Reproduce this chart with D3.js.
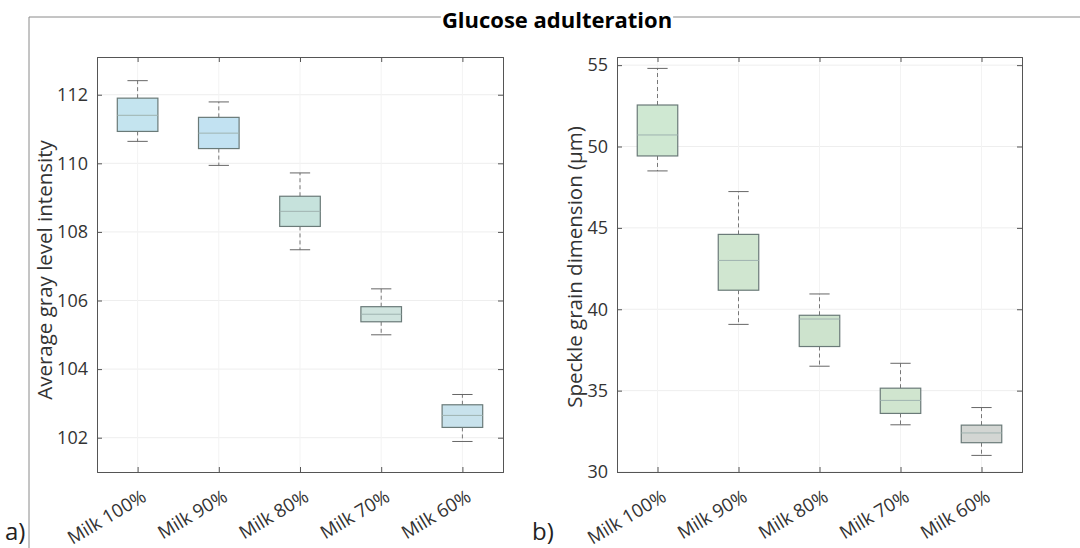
<!DOCTYPE html>
<html>
<head>
<meta charset="utf-8">
<script src="https://cdn.jsdelivr.net/npm/d3@7"></script>
<style>
  body { margin: 0; background: #fff; }
  text { font-family: "Open Sans", sans-serif; }
</style>
</head>
<body>
<svg id="chart" width="1080" height="548"></svg>
<script>
// categories and tick labels
const categories = ["Milk 100%", "Milk 90%", "Milk 80%", "Milk 70%", "Milk 60%"];
const grayTicks = [102, 104, 106, 108, 110, 112];
const grainTicks = [30, 35, 40, 45, 50, 55];

// box stats: [whisker low, q1, median, q3, whisker high]
const grayLow    = [110.64, 109.94, 107.48, 105.00, 101.89];
const grayQ1     = [110.93, 110.43, 108.16, 105.38, 102.30];
const grayMedian = [111.40, 110.88, 108.60, 105.60, 102.65];
const grayQ3     = [111.90, 111.34, 109.04, 105.82, 102.96];
const grayHigh   = [112.41, 111.79, 109.72, 106.34, 103.26];

const grainLow    = [48.50, 39.07, 36.50, 32.90, 31.02];
const grainQ1     = [49.42, 41.17, 37.71, 33.60, 31.80];
const grainMedian = [50.71, 43.00, 39.40, 34.40, 32.40];
const grainQ3     = [52.55, 44.60, 39.63, 35.15, 32.88];
const grainHigh   = [54.80, 47.23, 40.94, 36.68, 33.96];

const grayFills  = ["#c4e4ef", "#c2e2f2", "#c6e2dc", "#cfe3de", "#c8e2ec"];
const grainFills = ["#cfe8d2", "#d0e6d0", "#cde3cd", "#d0e5cf", "#d3d6d3"];

const svg = d3.select("#chart");

// outer frame lines of the figure
svg.append("line").attr("x1", 29).attr("x2", 1080).attr("y1", 17).attr("y2", 17)
  .attr("stroke", "#8a8a8a").attr("stroke-width", 1);
svg.append("line").attr("x1", 29).attr("x2", 29).attr("y1", 17).attr("y2", 548)
  .attr("stroke", "#8a8a8a").attr("stroke-width", 1);

// title, with a white patch behind so the frame line stops at it
const titleMask = svg.append("rect").attr("fill", "#fff");
const title = svg.append("text")
  .attr("x", 557).attr("y", 28)
  .attr("text-anchor", "middle")
  .style("font-size", "22px").style("font-weight", "bold")
  .text("Glucose adulteration");
const tb = title.node().getBBox();
titleMask.attr("x", tb.x - 1).attr("y", tb.y).attr("width", tb.width + 2).attr("height", tb.height);

function drawPanel(opt) {
  const x = d3.scaleLinear().domain([0.5, 5.5]).range([opt.left, opt.right]);
  const y = d3.scaleLinear().domain(opt.domain).range([opt.bottom, opt.top]);
  const g = svg.append("g");

  // faint grid
  g.selectAll(".hgrid").data(opt.ticks).enter().append("line")
    .attr("x1", opt.left).attr("x2", opt.right)
    .attr("y1", d => y(d)).attr("y2", d => y(d))
    .attr("stroke", "#eeeeee");
  g.selectAll(".vgrid").data(categories).enter().append("line")
    .attr("x1", (d, i) => x(i + 1)).attr("x2", (d, i) => x(i + 1))
    .attr("y1", opt.top).attr("y2", opt.bottom)
    .attr("stroke", "#f3f3f3");

  // axes with inward ticks on all four sides
  const yAxisL = d3.axisLeft(y).tickValues(opt.ticks).tickSize(-5).tickPadding(9);
  const yAxisR = d3.axisRight(y).tickValues(opt.ticks).tickSize(-5).tickFormat("");
  const xAxisB = d3.axisBottom(x).tickValues([1, 2, 3, 4, 5]).tickSize(-5).tickFormat("");
  const xAxisT = d3.axisTop(x).tickValues([1, 2, 3, 4, 5]).tickSize(-5).tickFormat("");

  const ay = g.append("g").attr("transform", `translate(${opt.left},0)`).call(yAxisL);
  g.append("g").attr("transform", `translate(${opt.right},0)`).call(yAxisR);
  g.append("g").attr("transform", `translate(0,${opt.bottom})`).call(xAxisB);
  g.append("g").attr("transform", `translate(0,${opt.top})`).call(xAxisT);
  g.selectAll(".domain").attr("stroke", "#555");
  g.selectAll(".tick line").attr("stroke", "#555");
  ay.selectAll("text").style("font-size", "18px").attr("fill", "#333");

  // rotated category labels
  g.selectAll(".xlab").data(categories).enter().append("text")
    .attr("transform", (d, i) => `translate(${x(i + 1) + 10},${opt.bottom + 28}) rotate(-31)`)
    .attr("text-anchor", "end")
    .attr("fill", "#333")
    .style("font-size", "18.5px")
    .text(d => d);

  // y label
  g.append("text")
    .attr("transform", `translate(${opt.labelX},${opt.labelY}) rotate(-90)`)
    .attr("text-anchor", "middle")
    .attr("fill", "#333")
    .style("font-size", "20.5px")
    .text(opt.label);

  const bw = (x(2) - x(1)) * 0.5;
  const cw = bw * 0.5;
  const boxes = g.selectAll(".box").data(categories).enter().append("g");

  // whiskers
  boxes.append("line")
    .attr("x1", (d, i) => x(i + 1)).attr("x2", (d, i) => x(i + 1))
    .attr("y1", (d, i) => y(opt.q3[i])).attr("y2", (d, i) => y(opt.high[i]))
    .attr("stroke", "#777").attr("stroke-dasharray", "4,3");
  boxes.append("line")
    .attr("x1", (d, i) => x(i + 1)).attr("x2", (d, i) => x(i + 1))
    .attr("y1", (d, i) => y(opt.q1[i])).attr("y2", (d, i) => y(opt.low[i]))
    .attr("stroke", "#777").attr("stroke-dasharray", "4,3");
  // caps
  boxes.append("line")
    .attr("x1", (d, i) => x(i + 1) - cw / 2).attr("x2", (d, i) => x(i + 1) + cw / 2)
    .attr("y1", (d, i) => y(opt.high[i])).attr("y2", (d, i) => y(opt.high[i]))
    .attr("stroke", "#666");
  boxes.append("line")
    .attr("x1", (d, i) => x(i + 1) - cw / 2).attr("x2", (d, i) => x(i + 1) + cw / 2)
    .attr("y1", (d, i) => y(opt.low[i])).attr("y2", (d, i) => y(opt.low[i]))
    .attr("stroke", "#666");
  // boxes
  boxes.append("rect")
    .attr("x", (d, i) => x(i + 1) - bw / 2)
    .attr("width", bw)
    .attr("y", (d, i) => y(opt.q3[i]))
    .attr("height", (d, i) => y(opt.q1[i]) - y(opt.q3[i]))
    .attr("fill", (d, i) => opt.fills[i])
    .attr("stroke", "#6a7a78").attr("stroke-width", 1.2);
  // medians
  boxes.append("line")
    .attr("x1", (d, i) => x(i + 1) - bw / 2).attr("x2", (d, i) => x(i + 1) + bw / 2)
    .attr("y1", (d, i) => y(opt.median[i])).attr("y2", (d, i) => y(opt.median[i]))
    .attr("stroke", "#9fb3b0").attr("stroke-width", 1);
}

drawPanel({
  left: 97, right: 503, top: 57, bottom: 472,
  domain: [101, 113.1], ticks: grayTicks,
  low: grayLow, q1: grayQ1, median: grayMedian, q3: grayQ3, high: grayHigh,
  fills: grayFills, label: "Average gray level intensity", labelX: 52, labelY: 270
});

drawPanel({
  left: 617, right: 1022, top: 57, bottom: 472,
  domain: [30, 55.5], ticks: grainTicks,
  low: grainLow, q1: grainQ1, median: grainMedian, q3: grainQ3, high: grainHigh,
  fills: grainFills, label: "Speckle grain dimension (µm)", labelX: 582, labelY: 267
});

// panel letters
svg.append("text").attr("x", 5).attr("y", 540).style("font-size", "24px").attr("fill", "#222").text("a)");
svg.append("text").attr("x", 532).attr("y", 540).style("font-size", "24px").attr("fill", "#222").text("b)");
</script>
</body>
</html>
